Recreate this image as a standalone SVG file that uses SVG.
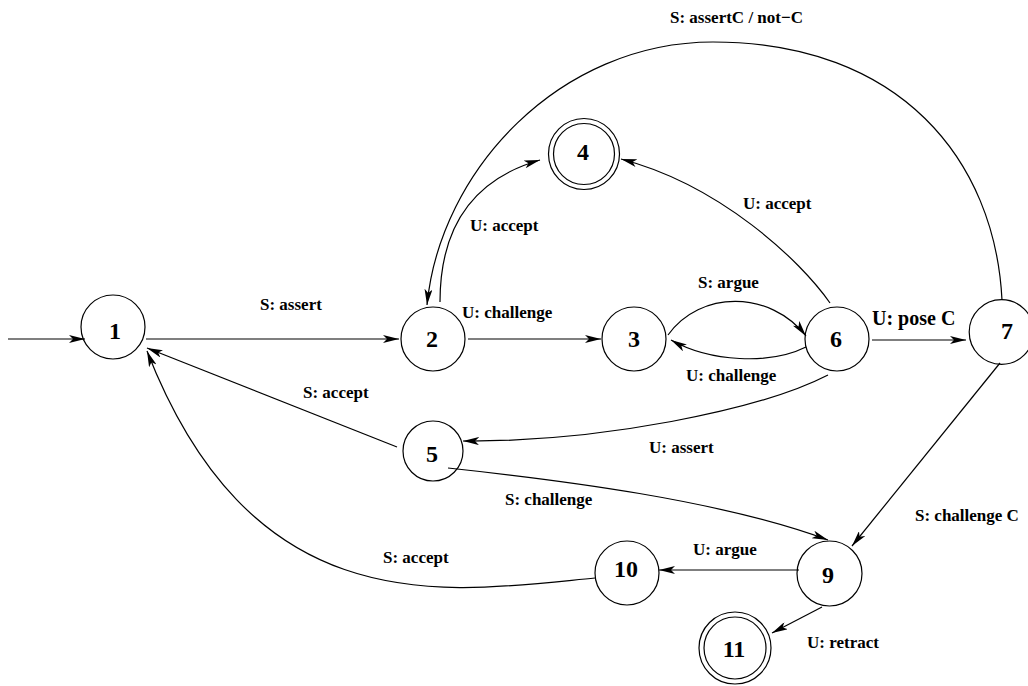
<svg xmlns="http://www.w3.org/2000/svg" width="1028" height="686" viewBox="0 0 1028 686">
<style>
.n{fill:none;stroke:#000;stroke-width:1.2}
.e{fill:none;stroke:#000;stroke-width:1.2;marker-end:url(#ah)}
.lb{font-family:"Liberation Serif","Times New Roman",serif;font-weight:bold;font-size:17px;fill:#000}
.nl{font-family:"Liberation Serif","Times New Roman",serif;font-weight:bold;font-size:24px;fill:#000;text-anchor:middle}
</style>
<defs>
<marker id="ah" markerUnits="userSpaceOnUse" markerWidth="16" markerHeight="8" refX="16" refY="4" orient="auto">
<path d="M0,0 L16,4 L0,8 L4,4 z" fill="#000"/>
</marker>
</defs>
<rect width="1028" height="686" fill="#fff"/>
<g id="connectors">
<path class="e" d="M8,339 L85,339"/>
<path class="e" d="M146,339 L399,339"/>
<path class="e" d="M468,339 L601,339"/>
<path class="e" d="M440,302 C440,230 470,180 540,160"/>
<path class="e" d="M1002,300 C995,160 900,42 713,42 C560,42 440,170 427,305"/>
<path class="e" d="M830,303 C800,260 720,185 621,159"/>
<path class="e" d="M668,335 C700,290 770,290 806,336"/>
<path class="e" d="M806,347 C770,365 710,362 671,340"/>
<path class="e" d="M872,340 L966,340"/>
<path class="e" d="M828,375 C760,410 600,442 463,441"/>
<path class="e" d="M397,447 L147,348"/>
<path class="e" d="M595,578 C450,592 255,628 147,351"/>
<path class="e" d="M448,468 C560,480 720,500 828,540"/>
<path class="e" d="M1000,363 L852,546"/>
<path class="e" d="M799,570 L659,570"/>
<path class="e" d="M822,607 L772,633"/>
</g>
<g id="labels">
<text class="lb" x="260" y="310">S: assert</text>
<text class="lb" x="462" y="318">U: challenge</text>
<text class="lb" x="470" y="231">U: accept</text>
<text class="lb" x="743" y="209">U: accept</text>
<text class="lb" x="670" y="23">S: assertC / not−C</text>
<text class="lb" x="698" y="288">S: argue</text>
<text class="lb" x="686" y="381">U: challenge</text>
<text class="lb" x="872" y="325" style="font-size:20px">U: pose C</text>
<text class="lb" x="649" y="453">U: assert</text>
<text class="lb" x="303" y="398">S: accept</text>
<text class="lb" x="505" y="505">S: challenge</text>
<text class="lb" x="915" y="521">S: challenge C</text>
<text class="lb" x="383" y="563">S: accept</text>
<text class="lb" x="693" y="555">U: argue</text>
<text class="lb" x="807" y="648">U: retract</text>
</g>
<g id="node1"><circle class="n" cx="113" cy="327" r="32"/><text class="nl" x="115" y="339">1</text></g>
<g id="node2"><circle class="n" cx="433" cy="339" r="32"/><text class="nl" x="432" y="347">2</text></g>
<g id="node3"><circle class="n" cx="634" cy="339" r="32"/><text class="nl" x="634" y="347">3</text></g>
<g id="node4"><circle class="n" cx="584" cy="154" r="35.5"/><circle class="n" cx="584" cy="154" r="30.5"/><text class="nl" x="583" y="160">4</text></g>
<g id="node5"><circle class="n" cx="433" cy="451" r="30"/><text class="nl" x="432" y="462">5</text></g>
<g id="node6"><circle class="n" cx="837" cy="339" r="32"/><text class="nl" x="836" y="347">6</text></g>
<g id="node7"><circle class="n" cx="1001.5" cy="332" r="32.3"/><text class="nl" x="1007" y="339">7</text></g>
<g id="node9"><circle class="n" cx="829.5" cy="573.5" r="32.5"/><text class="nl" x="828" y="583">9</text></g>
<g id="node10"><circle class="n" cx="627" cy="573" r="32"/><text class="nl" x="626" y="577">10</text></g>
<g id="node11"><circle class="n" cx="735" cy="648" r="36"/><circle class="n" cx="735" cy="648" r="31"/><text class="nl" x="734" y="657">11</text></g>
</svg>
